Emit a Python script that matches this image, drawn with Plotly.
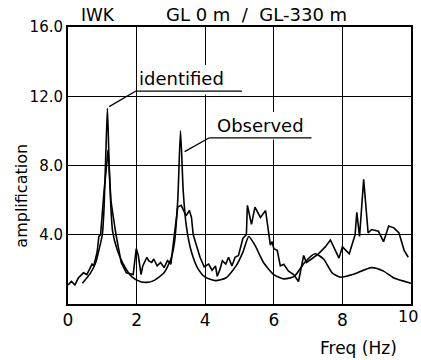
import plotly.graph_objects as go

# Observed spectral ratio (jagged)
obs_f = [0.0, 0.1, 0.2, 0.3, 0.45, 0.55, 0.7, 0.75, 0.85, 0.9, 0.95, 1.05, 1.17, 1.25, 1.3, 1.4,
         1.55, 1.7, 1.9, 1.99, 2.05, 2.13, 2.18, 2.3, 2.35, 2.44, 2.5, 2.6, 2.7, 2.8, 2.9, 3.0,
         3.1, 3.2, 3.3, 3.44, 3.54, 3.6, 3.65, 3.85, 3.97, 4.1, 4.2, 4.3, 4.35, 4.43, 4.5, 4.6,
         4.68, 4.78, 4.87, 4.97, 5.1, 5.2, 5.23, 5.35, 5.45, 5.61, 5.76, 5.9, 5.95, 6.0, 6.1,
         6.19, 6.29, 6.43, 6.58, 6.72, 6.87, 6.95, 7.1, 7.3, 7.5, 7.65, 7.9, 8.0, 8.2, 8.37,
         8.42, 8.5, 8.62, 8.75, 8.85, 9.05, 9.2, 9.35, 9.5, 9.65, 9.8, 9.92]
obs_a = [1.1, 1.3, 1.1, 1.5, 1.8, 1.7, 2.3, 2.2, 3.0, 3.9, 4.0, 6.5, 8.9, 6.0, 5.3, 4.0,
         2.4, 1.8, 1.7, 3.2, 2.8, 1.7, 2.2, 2.7, 2.5, 2.4, 2.6, 2.2, 2.4, 2.1, 2.5, 2.3,
         4.0, 5.6, 5.7, 5.1, 5.4, 5.0, 4.0, 2.7, 2.15, 2.3, 1.95, 2.2, 1.6, 2.0, 2.5, 2.3,
         2.7, 2.2, 2.7, 2.8, 3.8, 4.0, 5.7, 4.6, 5.6, 5.0, 5.4, 3.4, 3.6, 3.2, 3.1,
         2.2, 2.3, 1.9, 1.7, 1.3, 2.8, 2.4, 2.6, 2.9, 3.3, 3.7, 2.65, 3.3, 2.9, 4.0,
         5.3, 3.9, 7.2, 4.1, 4.3, 4.2, 3.6, 4.5, 4.4, 4.1, 3.1, 2.7]

# Identified (model) amplification (smooth)
idn_f = [0.42, 0.66, 0.8, 0.9, 1.0, 1.05, 1.1, 1.15, 1.2, 1.25, 1.3, 1.44, 1.6, 1.85, 2.1,
         2.3, 2.5, 2.8, 3.0, 3.1, 3.2, 3.28, 3.36, 3.45, 3.6, 3.8, 4.0, 4.3, 4.6, 4.9, 5.1,
         5.27, 5.45, 5.7, 6.0, 6.3, 6.6, 6.9, 7.2, 7.45, 7.7, 7.95, 8.3, 8.85, 9.2, 9.5, 10.0]
idn_a = [1.2, 1.8, 2.35, 3.1, 4.0, 5.5, 8.5, 11.3, 8.0, 5.6, 4.2, 3.1, 2.35, 1.6, 1.3,
         1.25, 1.35, 1.8, 2.6, 3.5, 6.0, 10.0, 6.5, 4.5, 3.0, 2.0, 1.55, 1.35, 1.5, 2.2, 3.0,
         3.9, 3.4, 2.4, 1.7, 1.45, 1.6, 2.4, 2.9, 2.6, 1.8, 1.55, 1.7, 2.1, 1.9, 1.5, 1.2]

x_ticks = [0, 2, 4, 6, 8, 10]
x_tick_text = ["0", "2", "4", "6", "8", ""]
y_ticks = [4, 8, 12, 16]
y_tick_text = ["4.0", "8.0", "12.0", "16.0"]

FONT = "DejaVu Sans"

fig = go.Figure()
fig.add_trace(go.Scatter(x=idn_f, y=idn_a, mode="lines",
                         line=dict(color="black", width=1.6, shape="spline", smoothing=0.6),
                         name="identified", showlegend=False))
fig.add_trace(go.Scatter(x=obs_f, y=obs_a, mode="lines", line=dict(color="black", width=1.6),
                         name="Observed", showlegend=False))

fig.update_layout(
    width=421, height=360,
    margin=dict(l=68, r=8, t=27, b=56),
    paper_bgcolor="white", plot_bgcolor="white",
    font=dict(family=FONT, color="black"),
    xaxis=dict(range=[0, 10], tickvals=x_ticks, ticktext=x_tick_text, showgrid=True,
               gridcolor="black", gridwidth=1.3,
               showline=True, linecolor="black", linewidth=2, mirror=True, zeroline=False,
               ticks="", tickfont=dict(size=17)),
    yaxis=dict(range=[0, 16], tickvals=y_ticks, ticktext=y_tick_text, showgrid=True, gridcolor="black",
               gridwidth=1.3, showline=True, linecolor="black", linewidth=2, mirror=True, zeroline=False,
               ticks="", tickfont=dict(size=15)),
)

# gaps in vertical grid lines behind labels
fig.add_shape(type="rect", xref="x", yref="y", x0=3.9, x1=4.1, y0=12.1, y1=13.8,
              fillcolor="white", line_width=0, layer="above")
fig.add_shape(type="rect", xref="x", yref="y", x0=5.9, x1=6.1, y0=9.5, y1=11.1,
              fillcolor="white", line_width=0, layer="above")

# label leaders
fig.add_shape(type="line", xref="x", yref="y", x0=1.2, y0=11.4, x1=1.98, y1=12.3,
              line=dict(color="black", width=1.3))
fig.add_shape(type="line", xref="x", yref="y", x0=1.98, y0=12.3, x1=5.07, y1=12.3,
              line=dict(color="black", width=1.3))
fig.add_shape(type="line", xref="x", yref="y", x0=3.4, y0=8.8, x1=4.12, y1=9.6,
              line=dict(color="black", width=1.3))
fig.add_shape(type="line", xref="x", yref="y", x0=4.12, y0=9.6, x1=7.1, y1=9.6,
              line=dict(color="black", width=1.3))

fig.add_annotation(x=2.0, y=12.3, xref="x", yref="y", text="identified", showarrow=False,
                   xanchor="left", yanchor="bottom", font=dict(size=18))
fig.add_annotation(x=4.3, y=9.6, xref="x", yref="y", text="Observed", showarrow=False,
                   xanchor="left", yanchor="bottom", font=dict(size=18))

# "10" tick label at the right edge (kept inside the page)
fig.add_annotation(x=1.0, y=0, xref="paper", yref="paper", text="10", showarrow=False,
                   xanchor="center", yanchor="top", yshift=-1, xshift=-3, font=dict(size=16))

fig.add_annotation(x=0.033, y=1.0, xref="paper", yref="paper", text="IWK", showarrow=False,
                   xanchor="left", yanchor="bottom", font=dict(size=17))
fig.add_annotation(x=0.28, y=1.0, xref="paper", yref="paper", text="GL 0 m  /  GL-330 m",
                   showarrow=False, xanchor="left", yanchor="bottom", font=dict(size=18))
fig.add_annotation(x=0.965, y=-0.115, xref="paper", yref="paper", text="Freq (Hz)", showarrow=False,
                   xanchor="right", yanchor="top", font=dict(size=17))
fig.add_annotation(x=-0.135, y=0.39, xref="paper", yref="paper", text="amplification",
                   showarrow=False, textangle=-90, xanchor="center", yanchor="middle",
                   font=dict(size=16))

fig.write_html("out.html")
